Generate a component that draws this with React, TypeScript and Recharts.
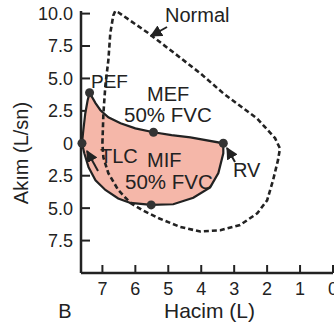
import { ScatterChart, Scatter, XAxis, YAxis } from "recharts";

/* ── Data (volume in L, flow in L/sn; inspiratory flow negative) ── */

const patientVol = [7.62, 7.58, 7.52, 7.45, 7.39, 7.21, 7.06, 6.82, 6.45, 6.0, 5.45, 4.9, 4.33, 3.33, 3.33, 3.48, 3.73, 4.24, 4.85, 5.52, 6.15, 6.52, 6.91, 7.21, 7.42, 7.55, 7.62];
const patientFlow = [0, 1.0, 2.3, 3.3, 3.9, 3.1, 2.55, 2.0, 1.55, 1.15, 0.85, 0.63, 0.45, 0, -0.77, -2.3, -3.4, -4.2, -4.7, -4.75, -4.6, -4.25, -3.6, -2.85, -1.85, -0.77, 0];

const normalVol = [7.0, 6.97, 6.91, 6.82, 6.76, 6.67, 6.61, 6.52, 5.61, 4.79, 4.03, 3.33, 2.3, 1.76, 1.61, 1.67, 1.82, 2.0, 2.3, 2.82, 3.42, 4.03, 4.64, 5.27, 5.79, 6.15, 6.52, 6.82, 6.97, 7.0];
const normalFlow = [0, 2.3, 4.46, 6.4, 8.5, 9.85, 10.2, 10.1, 8.5, 6.9, 5.4, 3.85, 1.9, 0.4, -0.4, -1.3, -2.85, -4.4, -5.4, -6.3, -6.7, -6.8, -6.45, -5.8, -5.15, -4.6, -3.6, -2.3, -1.1, 0];

// PEF, TLC, MEF, RV, MIF
const markerVol = [7.39, 7.62, 5.45, 3.33, 5.52];
const markerFlow = [3.9, 0, 0.85, 0, -4.75];

const volumeTicks = [7, 6, 5, 4, 3, 2, 1, 0];
const flowTicks = [10, 7.5, 5, 2.5, 0, -2.5, -5, -7.5];

const patient = patientVol.map((v, i) => ({ v, f: patientFlow[i] }));
const normal = normalVol.map((v, i) => ({ v, f: normalFlow[i] }));
const markers = markerVol.map((v, i) => ({ v, f: markerFlow[i] }));

const FONT = "'Liberation Sans', Arial, sans-serif";
const INK = "#222";

const NoDot = () => <g />;

const fmtFlow = (v: number) => (v === 0 ? "0" : Math.abs(v).toFixed(1));

export default function App() {
  return (
    <div style={{ position: "absolute", left: 0, top: 0, width: 334, height: 327, background: "#fff" }}>
      <ScatterChart width={334} height={327} margin={{ top: 11, right: 1, bottom: 24, left: 21 }}>
        <XAxis
          type="number"
          dataKey="v"
          domain={[0, 7.65]}
          reversed
          ticks={volumeTicks}
          height={30}
          axisLine={{ stroke: INK, strokeWidth: 2.5 }}
          tickLine={{ stroke: INK, strokeWidth: 2 }}
          tickSize={-8}
          tickMargin={17}
          tick={{ fontSize: 18, fill: INK, fontFamily: FONT }}
          interval={0}
        />
        <YAxis
          type="number"
          dataKey="f"
          domain={[-10, 10.2]}
          ticks={flowTicks}
          width={60}
          axisLine={{ stroke: INK, strokeWidth: 2.5 }}
          tickLine={{ stroke: INK, strokeWidth: 2 }}
          tickSize={-9}
          tickMargin={17}
          tickFormatter={fmtFlow}
          tick={{ fontSize: 18, fill: INK, fontFamily: FONT }}
          interval={0}
        />
        <Scatter
          data={patient}
          shape={NoDot}
          line={{ fill: "#f5b7a9", stroke: INK, strokeWidth: 2.2 }}
          lineJointType="linear"
          isAnimationActive={false}
        />
        <Scatter
          data={normal}
          shape={NoDot}
          line={{ fill: "none", stroke: INK, strokeWidth: 2.6, strokeDasharray: "5 3" }}
          lineJointType="linear"
          isAnimationActive={false}
        />
        <Scatter data={markers} fill="#333" isAnimationActive={false} shape={(p: any) => <circle cx={p.cx} cy={p.cy} r={4.5} fill="#333" />} />
      </ScatterChart>

      <svg width={334} height={327} style={{ position: "absolute", left: 0, top: 0, pointerEvents: "none" }} fontFamily={FONT} fill={INK}>
        <defs>
          <marker id="arr" viewBox="0 0 10 10" refX="9" refY="5" markerWidth="6" markerHeight="6" orient="auto">
            <path d="M0,0 L10,5 L0,10 z" fill={INK} />
          </marker>
        </defs>
        <text x={165} y={22} fontSize={20}>Normal</text>
        <line x1={167} y1={27} x2={151} y2={36} stroke={INK} strokeWidth={2} markerEnd="url(#arr)" />
        <text x={91} y={88} fontSize={19}>PEF</text>
        <text x={147} y={101} fontSize={20}>MEF</text>
        <text x={124} y={122} fontSize={20.5}>50% FVC</text>
        <text x={100} y={163} fontSize={20}>TLC</text>
        <line x1={98} y1={171} x2={87} y2={151} stroke={INK} strokeWidth={2} markerEnd="url(#arr)" />
        <text x={147} y={167} fontSize={20}>MIF</text>
        <text x={125} y={189} fontSize={20.5}>50% FVC</text>
        <text x={233} y={177} fontSize={20}>RV</text>
        <line x1={235} y1={162} x2={227} y2={148} stroke={INK} strokeWidth={2} markerEnd="url(#arr)" />
        <text x={65} y={318} fontSize={20} textAnchor="middle">B</text>
        <text x={209.5} y={318} fontSize={21} textAnchor="middle">Hacim (L)</text>
        <text x={28} y={153} fontSize={20} textAnchor="middle" transform="rotate(-90 28 153)">Akım (L/sn)</text>
      </svg>
    </div>
  );
}
